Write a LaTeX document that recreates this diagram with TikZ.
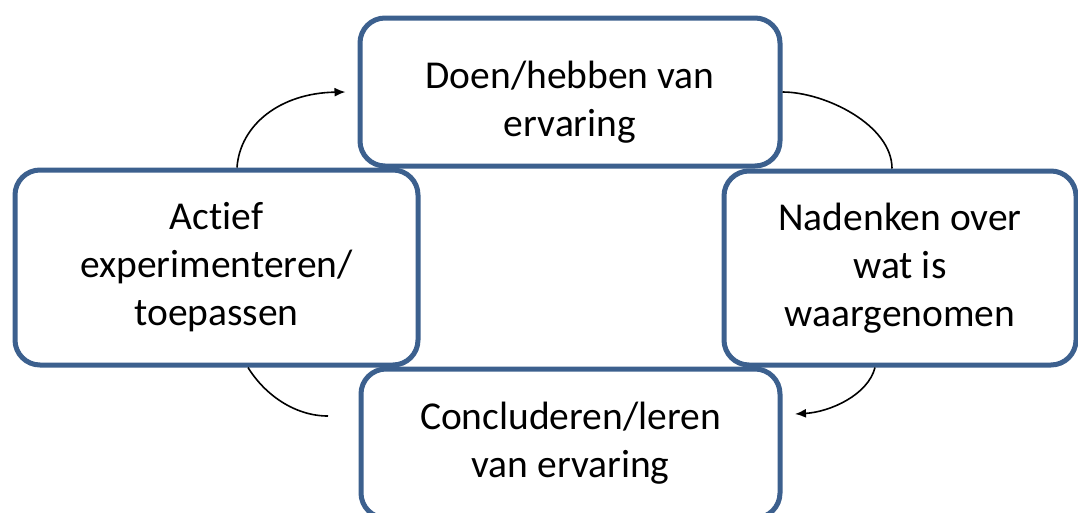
\documentclass[tikz,border=0pt]{standalone}
\usepackage{fontspec}
\setmainfont[Ligatures=NoCommon]{Carlito}
\usetikzlibrary{arrows.meta}
\definecolor{boxblue}{RGB}{60,96,142}
\tikzset{
  stagebox/.style={draw=boxblue, line width=5pt, fill=white, rounded corners=25pt,
    align=center, inner sep=0pt, font=\fontsize{39.5}{48}\selectfont},
  cycline/.style={draw=black, line width=1.6pt},
  cyctip/.style={cycline, -{Latex[length=11pt,width=9pt]}}
}
\begin{document}
\begin{tikzpicture}[x=1pt,y=-1pt]
\useasboundingbox (0,0) rectangle (1078,512);
\clip (0,0) rectangle (1078,512);
\node[stagebox, minimum width=420pt, minimum height=148pt] (T) at (570,92) {\raisebox{-17pt}[0pt][0pt]{\begin{tabular}{@{}c@{}}Doen/hebben van\\ervaring\end{tabular}}};
\node[stagebox, minimum width=403pt, minimum height=195pt] (L) at (216.5,267.5) {Actief\\experimenteren/\\toepassen};
\node[stagebox, minimum width=352pt, minimum height=194pt] (R) at (900,268) {Nadenken over\\wat is\\waargenomen};
\node[stagebox, minimum width=419pt, minimum height=149pt] (B) at (570.5,443.5) {Concluderen/leren\\van ervaring};
\coordinate (a3e) at (795,414);
\coordinate (a4e) at (328,416);
\draw[cyctip] ([xshift=20.5pt]L.north) .. controls (240,125) and (280,93) .. ([xshift=-12pt]T.west);
\draw[cycline] (T.east) .. controls (825,92) and (892,125) .. ([xshift=-8pt]R.north);
\draw[cyctip] ([xshift=-25pt]R.south) .. controls (868,395) and (830,412) .. (a3e);
\draw[cycline] ([xshift=31.5pt]L.south) .. controls (265,395) and (295,416) .. (a4e);
\end{tikzpicture}
\end{document}
